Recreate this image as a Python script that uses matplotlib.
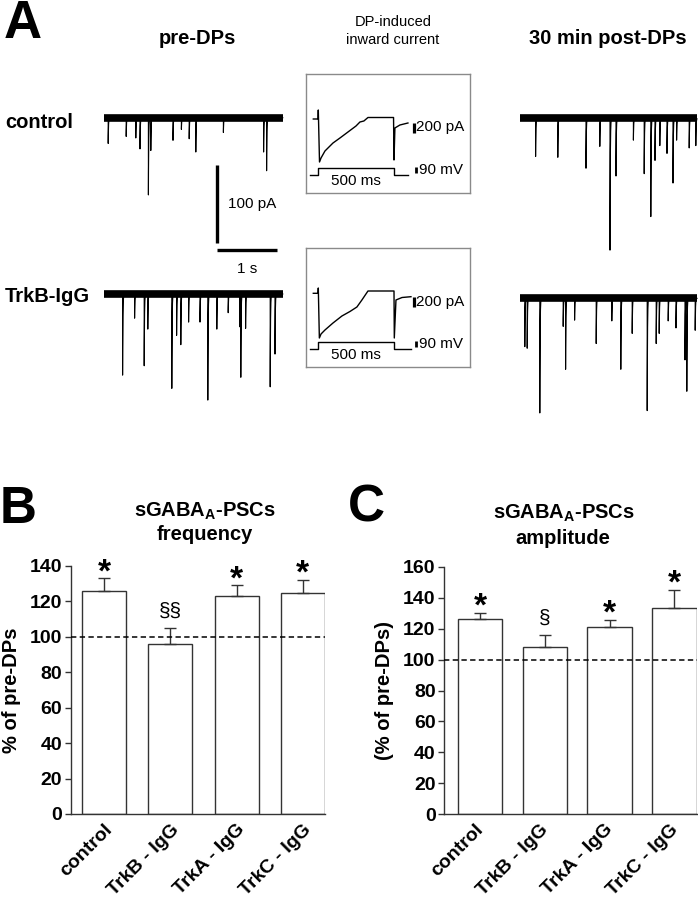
import numpy as np
import matplotlib
matplotlib.use('Agg')
import matplotlib.pyplot as plt
import matplotlib.transforms as mtrans

plt.rcParams['font.family'] = ['Liberation Sans', 'DejaVu Sans']
plt.rcParams['mathtext.fontset'] = 'custom'
plt.rcParams['mathtext.rm'] = 'Liberation Sans'
plt.rcParams['mathtext.bf'] = 'Liberation Sans:bold'

# ------------------------------------------------------------------ data
groups = ['control', 'TrkB - IgG', 'TrkA - IgG', 'TrkC - IgG']
freq_mean = [126, 96, 123, 125]
freq_sem = [7, 9, 6, 7]
freq_marks = ['*', '§§', '*', '*']
amp_mean = [126, 108, 121, 133]
amp_sem = [4, 8, 4.5, 12]
amp_marks = ['*', '§', '*', '*']

# spontaneous GABA-A PSCs: event times (s) and amplitudes (pA)
ctrl_pre_t = [0.07, 0.37, 0.53, 0.60, 0.74, 0.78, 1.15, 1.29, 1.42, 1.53, 1.99, 2.66, 2.71]
ctrl_pre_a = [33, 24, 26, 40, 99, 42, 29, 15, 27, 44, 19, 44, 68]
ctrl_post_t = [0.26, 0.63, 1.10, 1.33, 1.50, 1.60, 1.89, 2.07, 2.18, 2.25, 2.33, 2.45, 2.55, 2.61, 2.82, 2.93]
ctrl_post_a = [49, 50, 64, 36, 169, 74, 28, 71, 126, 54, 35, 45, 83, 28, 38, 35]
trkb_pre_t = [0.31, 0.51, 0.67, 0.73, 1.13, 1.21, 1.28, 1.41, 1.60, 1.73, 1.88, 2.07, 2.26, 2.28, 2.36, 2.77, 2.85]
trkb_pre_a = [104, 31, 92, 45, 121, 53, 65, 36, 36, 136, 45, 24, 42, 106, 44, 119, 77]
trkb_post_t = [0.08, 0.12, 0.33, 0.72, 0.76, 0.91, 1.27, 1.53, 1.68, 1.87, 2.12, 2.27, 2.32, 2.47, 2.60, 2.75, 2.78, 2.92]
trkb_post_a = [62, 64, 147, 36, 91, 28, 58, 29, 91, 45, 144, 58, 45, 29, 38, 79, 119, 41]
pre_dur = 2.98
post_dur = 2.95
scale_pA = 100
scale_s = 1

# DP-induced inward current (ms, pA) and voltage command (ms, mV)
cur_ctrl_t = [-33, -2, 0, 8, 18, 44, 97, 143, 196, 249, 275, 301, 328, 497, 500, 506, 539, 592]
cur_ctrl_pA = [0, 0, 180, -860, -780, -640, -480, -380, -260, -140, -60, -40, 30, 30, -820, -180, -120, -80]
cur_trkb_t = [-33, -2, 0, 7, 18, 44, 97, 156, 209, 255, 288, 328, 500, 502, 513, 553, 612]
cur_trkb_pA = [0, 0, 106, -894, -814, -734, -594, -454, -364, -274, -134, 46, 46, -894, -134, -84, -68]
v_ctrl_t = [-55, 0, 0, 500, 500, 592]
v_trkb_t = [-55, 0, 0, 500, 500, 612]
v_ctrl_mV = [-70, -70, 40, 40, -70, -70]
v_trkb_mV = [-70, -70, 40, 40, -70, -70]
inset_pA_bar = 200
inset_mV_bar = 90

# ------------------------------------------------------------------ layout helpers
W, H = 698, 900
fig = plt.figure(figsize=(W / 100, H / 100), dpi=100)


def rect(l, t, r, b):
    return [l / W, 1 - b / H, (r - l) / W, (b - t) / H]


def ftext(x, y, s, **kw):
    return fig.text(x / W, 1 - y / H, s, **kw)


PX_PER_S = 60.0
PA_PER_PX = 100 / 78.0


def draw_trace(left, right, top, bottom, base, ev_t, ev_a, dur):
    ax = fig.add_axes(rect(left, top, right, bottom))
    ax.set_xlim(0, (right - left) / PX_PER_S)
    ax.set_ylim(-(bottom - base) * PA_PER_PX, (base - top) * PA_PER_PX)
    ax.axis('off')
    dt = 0.00025
    t = np.arange(0, dur, dt)
    y = np.zeros_like(t)
    for t0, a in zip(ev_t, ev_a):
        i0 = int(round(t0 / dt))
        seg = t[i0:] - t[i0]
        y[i0:] -= a * np.exp(-seg / 0.005)
    ax.plot([0, dur], [0, 0], color='k', lw=5.5, solid_capstyle='butt')
    ax.plot(t, y, color='k', lw=0.8)
    return ax


ax_cpre = draw_trace(104, 284, 95, 275, 117.7, ctrl_pre_t, ctrl_pre_a, pre_dur)
draw_trace(520, 698, 95, 265, 118.3, ctrl_post_t, ctrl_post_a, post_dur)
draw_trace(104, 284, 278, 420, 294.0, trkb_pre_t, trkb_pre_a, pre_dur)
draw_trace(520, 698, 278, 420, 298.3, trkb_post_t, trkb_post_a, post_dur)

# scale bars (in control pre-DPs trace units)
xb = (217 - 104) / PX_PER_S
ytop = -(165 - 117.7) * PA_PER_PX
ax_cpre.plot([xb, xb], [ytop, ytop - scale_pA], color='k', lw=2.4, solid_capstyle='butt', clip_on=False)
yh = -(250 - 117.7) * PA_PER_PX
ax_cpre.plot([xb, xb + scale_s], [yh, yh], color='k', lw=2.4, solid_capstyle='butt', clip_on=False)
ax_cpre.text(xb + 0.18, ytop - scale_pA / 2, '%d pA' % scale_pA, fontsize=11, ha='left', va='center')
ax_cpre.text(xb + scale_s / 2, yh - 15, '%d s' % scale_s, fontsize=11, ha='center', va='top')

MS_PER_PX = 500 / 75.7
PA_IN_PX = 20.0
MV_IN_PX = 15.0


def draw_inset(top, ct, ci, vt, vv):
    l, r, b = 306, 470, top + 119
    x0 = 318.3
    xl = ((l - x0) * MS_PER_PX, (r - x0) * MS_PER_PX)
    axc = fig.add_axes(rect(l, top, r, b))
    axc.set_xlim(*xl)
    base = top + 45
    axc.set_ylim(-(b - base) * PA_IN_PX, (base - top) * PA_IN_PX)
    axc.set_xticks([])
    axc.set_yticks([])
    for sp in axc.spines.values():
        sp.set_color('#8a8a8a')
        sp.set_linewidth(1.0)
    axc.plot(ct, ci, color='k', lw=1.0)
    axv = fig.add_axes(rect(l, top, r, b))
    axv.patch.set_visible(False)
    axv.axis('off')
    axv.set_xlim(*xl)
    hold = top + 101
    axv.set_ylim(-70 - (b - hold) * MV_IN_PX, -70 + (hold - top) * MV_IN_PX)
    axv.plot(vt, vv, color='k', lw=1.0)
    # scale bars
    xbar = (413.5 - x0) * MS_PER_PX
    axc.plot([xbar, xbar], [-70, -70 - inset_pA_bar], color='k', lw=2.3, solid_capstyle='butt')
    axc.text((416 - x0) * MS_PER_PX, -70 - inset_pA_bar / 2, '%d pA' % inset_pA_bar,
             fontsize=11, ha='left', va='center')
    xbv = (416 - x0) * MS_PER_PX
    axv.plot([xbv, xbv], [-35, -35 + inset_mV_bar], color='k', lw=2.0, solid_capstyle='butt')
    axv.text((419 - x0) * MS_PER_PX, 10, '%d mV' % inset_mV_bar, fontsize=11, ha='left', va='center')
    axv.text(250, -70 - 6 * MV_IN_PX, '500 ms', fontsize=11, ha='center', va='center')


draw_inset(74, cur_ctrl_t, cur_ctrl_pA, v_ctrl_t, v_ctrl_mV)
draw_inset(248.3, cur_trkb_t, cur_trkb_pA, v_trkb_t, v_trkb_mV)

# panel A labels
ftext(4, 38, 'A', fontsize=38, fontweight='bold', ha='left', va='baseline')
ftext(197.6, 38, 'pre-DPs', fontsize=14.5, fontweight='bold', ha='center', va='center')
ftext(608, 38, '30 min post-DPs', fontsize=14.5, fontweight='bold', ha='center', va='center')
ftext(393, 22, 'DP-induced', fontsize=10.5, ha='center', va='center')
ftext(393, 40, 'inward current', fontsize=10.5, ha='center', va='center')
ftext(5, 122.7, 'control', fontsize=14.5, fontweight='bold', ha='left', va='center')
ftext(5, 296.7, 'TrkB-IgG', fontsize=14.5, fontweight='bold', ha='left', va='center')


# ------------------------------------------------------------------ bar panels
def bar_panel(px, xlim, width, means, sems, marks, ymax, ylabel, ylab_x, dx_lab):
    ax = fig.add_axes(rect(*px))
    x = np.arange(len(means))
    ax.bar(x, means, width, color='white', edgecolor='#333333', linewidth=1.0, zorder=2)
    ax.errorbar(x, means, yerr=[np.zeros(len(sems)), sems], fmt='none', ecolor='#333333',
                elinewidth=1.0, capsize=4.3, capthick=1.0, zorder=3)
    ax.axhline(100, color='k', lw=1.1, ls=(0, (3.5, 2.2)), zorder=4)
    ax.set_xlim(*xlim)
    ax.set_ylim(0, ymax)
    ax.set_yticks(np.arange(0, ymax + 1, 20))
    for s in ['top', 'right']:
        ax.spines[s].set_visible(False)
    for s in ['left', 'bottom']:
        ax.spines[s].set_color('#333333')
        ax.spines[s].set_linewidth(1.0)
    ax.tick_params(axis='y', length=4.3, width=1.0, color='#333333', pad=2,
                   labelsize=14)
    ax.tick_params(axis='x', length=0, pad=5, labelsize=14)
    ax.set_xticks(x)
    ax.set_xticklabels(groups, rotation=45, ha='right', va='top', fontweight='bold')
    off = mtrans.ScaledTranslation(dx_lab / 100, 0, fig.dpi_scale_trans)
    for lab in ax.get_xticklabels():
        lab.set_transform(lab.get_transform() + off)
    for lab in ax.get_yticklabels():
        lab.set_fontweight('bold')
    for xi, m, s, mk in zip(x, means, sems, marks):
        if mk == '*':
            ax.annotate(mk, (xi, m + s), xytext=(0, -2), textcoords='offset points',
                        ha='center', va='baseline', fontsize=24, fontweight='bold',
                        annotation_clip=False)
        else:
            ax.annotate(mk, (xi, m + s), xytext=(0, 8), textcoords='offset points',
                        ha='center', va='baseline', fontsize=15, annotation_clip=False)
    ftext(ylab_x, (px[1] + px[3]) / 2, ylabel, fontsize=14.5, fontweight='bold',
          rotation=90, ha='center', va='center')
    return ax


bar_panel((71, 566, 325, 814), (-0.498, 3.333), 0.664, freq_mean, freq_sem, freq_marks, 140,
          '% of pre-DPs', 12, 12)
bar_panel((444.3, 566.7, 697, 814.3), (-0.551, 3.349), 0.687, amp_mean, amp_sem, amp_marks, 160,
          '(% of pre-DPs)', 384, 7)

ftext(0, 523, 'B', fontsize=37, fontweight='bold', ha='left', va='baseline')
ftext(348, 522, 'C', fontsize=37, fontweight='bold', ha='left', va='baseline')
ftext(204.5, 511, r'sGABA$_{\mathbf{A}}$-PSCs', fontsize=14.5, fontweight='bold', ha='center', va='center')
ftext(204.5, 534, 'frequency', fontsize=14.5, fontweight='bold', ha='center', va='center')
ftext(564, 513, r'sGABA$_{\mathbf{A}}$-PSCs', fontsize=14.5, fontweight='bold', ha='center', va='center')
ftext(563, 539, 'amplitude', fontsize=14.5, fontweight='bold', ha='center', va='center')

fig.savefig('out.png', dpi=100)
